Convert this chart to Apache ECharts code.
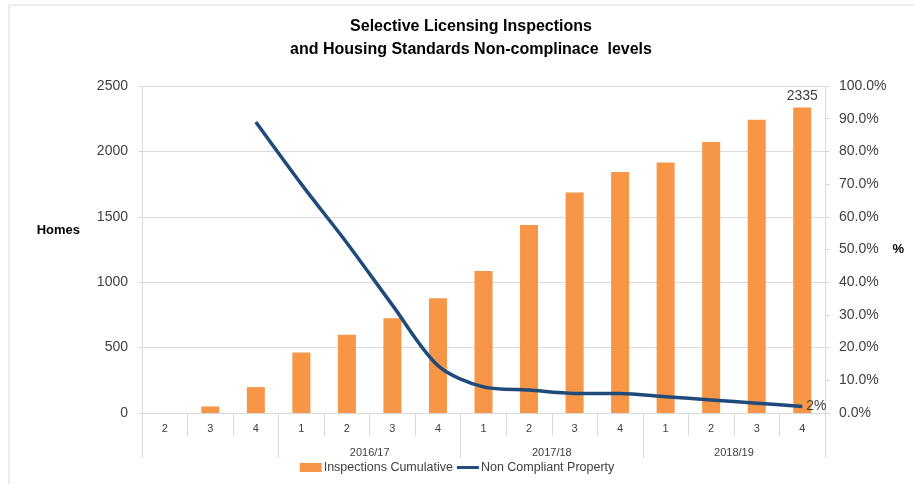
<!DOCTYPE html>
<html>
<head>
<meta charset="utf-8">
<script src="https://cdn.jsdelivr.net/npm/echarts@6/dist/echarts.min.js"></script>
<style>
html, body { margin: 0; padding: 0; background: #fff; }
#chart { width: 914px; height: 484px; }
</style>
</head>
<body>
<div id="chart"></div>
<script>
// quarters, grouped by financial year (first group has no year label)
var quarters = ['2', '3', '4', '1', '2', '3', '4', '1', '2', '3', '4', '1', '2', '3', '4'];
var years = ['', '2016/17', '2017/18', '2018/19'];
var yearSizes = [3, 4, 4, 4];

// Inspections Cumulative (homes)
var inspections = [0, 50, 198, 462, 598, 725, 878, 1085, 1438, 1685, 1842, 1915, 2072, 2242, 2335];
// Non Compliant Property (%)
var nonCompliant = [null, null, 89, 70, 52, 33, 14.5, 8, 7, 6, 6, 5, 4, 3, 2];

var homesTicks = { min: 0, max: 2500, interval: 500 };
var pctTicks = { min: 0, max: 100, interval: 10 };

// year groups: boundaries (in category units) and centres for labels
var yearCentres = [];
var boundIdx = { 0: true };
var pos = 0;
yearSizes.forEach(function (n) {
  yearCentres.push(pos + n / 2);
  pos += n;
  boundIdx[pos] = true;
});

var txt = '#404040';
var font = 'Liberation Sans';
var grey = '#d9d9d9';
var chart = echarts.init(document.getElementById('chart'));

var barData = inspections.map(function (v, i) {
  if (i === inspections.length - 1) {
    return { value: v, label: { show: true, position: 'top', color: txt, fontSize: 14, fontFamily: font, distance: 4 } };
  }
  return v;
});

chart.setOption({
  animation: false,
  backgroundColor: '#fff',
  textStyle: { fontFamily: font },
  title: {
    text: 'Selective Licensing Inspections\nand Housing Standards Non-complinace  levels',
    left: 466,
    textAlign: 'center',
    top: 10,
    textStyle: { fontSize: 16, fontWeight: 'bold', color: '#000', lineHeight: 23, fontFamily: font }
  },
  graphic: [{
    type: 'rect',
    shape: { x: 9, y: 5, width: 1000, height: 600 },
    style: { fill: 'none', stroke: grey, lineWidth: 1 },
    silent: true
  }],
  legend: {
    bottom: 5,
    left: 'center',
    itemGap: 4,
    itemWidth: 22,
    itemHeight: 9,
    textStyle: { color: txt, fontSize: 12.5, fontFamily: font, padding: [0, 0, 0, -3] },
    data: [
      { name: 'Inspections Cumulative', icon: 'rect' },
      { name: 'Non Compliant Property', icon: 'path://M0,0H30V4H0Z' }
    ]
  },
  grid: [
    { left: 142, right: 89, top: 86, bottom: 71, containLabel: false },
    // strip under the quarter row, holds the financial-year separators
    { left: 142, right: 89, top: 436, bottom: 26, containLabel: false }
  ],
  xAxis: [{
    type: 'category',
    data: quarters,
    boundaryGap: true,
    axisLine: { lineStyle: { color: grey } },
    axisTick: { show: true, interval: 0, length: 23, lineStyle: { color: grey } },
    axisLabel: { color: txt, fontSize: 11, interval: 0, margin: 10 }
  }, {
    type: 'value',
    min: 0,
    max: quarters.length,
    position: 'bottom',
    offset: 23,
    splitLine: { show: false },
    axisLine: { show: false },
    axisTick: { show: false },
    axisLabel: {
      color: txt, fontSize: 11, margin: 11,
      customValues: yearCentres,
      formatter: function (v) {
        var k = yearCentres.indexOf(v);
        return k >= 0 ? years[k] : '';
      }
    }
  }, {
    type: 'category',
    gridIndex: 1,
    data: quarters,
    boundaryGap: true,
    axisLine: { show: false },
    axisTick: { show: false },
    axisLabel: { show: false },
    splitLine: {
      show: true,
      interval: function (idx) { return !!boundIdx[idx]; },
      lineStyle: { color: grey }
    }
  }],
  yAxis: [{
    type: 'value',
    min: homesTicks.min,
    max: homesTicks.max,
    interval: homesTicks.interval,
    name: 'Homes',
    nameLocation: 'middle',
    nameRotate: 0,
    nameGap: 62,
    nameTextStyle: { fontWeight: 'bold', fontSize: 13, color: '#000', verticalAlign: 'bottom', padding: [0, 0, 13, 0] },
    axisLine: { show: true, lineStyle: { color: grey } },
    axisTick: { show: true, length: 4, lineStyle: { color: grey } },
    axisLabel: { color: txt, fontSize: 14, margin: 14, formatter: function (v) { return String(v); } },
    splitLine: { lineStyle: { color: grey } }
  }, {
    type: 'value',
    min: pctTicks.min,
    max: pctTicks.max,
    interval: pctTicks.interval,
    position: 'right',
    name: '%',
    nameLocation: 'middle',
    nameRotate: 0,
    nameGap: 65,
    nameTextStyle: { fontWeight: 'bold', fontSize: 13, color: '#000', padding: [4, 0, 0, 0] },
    axisLine: { show: true, lineStyle: { color: grey } },
    axisTick: { show: true, length: 5, lineStyle: { color: grey } },
    axisLabel: { color: txt, fontSize: 14, margin: 14, formatter: function (v) { return v.toFixed(1) + '%'; } },
    splitLine: { show: false }
  }, {
    type: 'value',
    gridIndex: 1,
    show: false
  }],
  series: [{
    name: 'Inspections Cumulative',
    type: 'bar',
    data: barData,
    barWidth: 18,
    itemStyle: { color: '#f79646' }
  }, {
    name: 'Non Compliant Property',
    type: 'line',
    yAxisIndex: 1,
    data: nonCompliant,
    smooth: 0.3,
    symbol: 'none',
    lineStyle: { color: '#1f4a7c', width: 3.5 },
    itemStyle: { color: '#1f4a7c' },
    endLabel: { show: true, formatter: '{c}%', color: txt, fontSize: 14, fontFamily: font, distance: 4 }
  }]
});
</script>
</body>
</html>
